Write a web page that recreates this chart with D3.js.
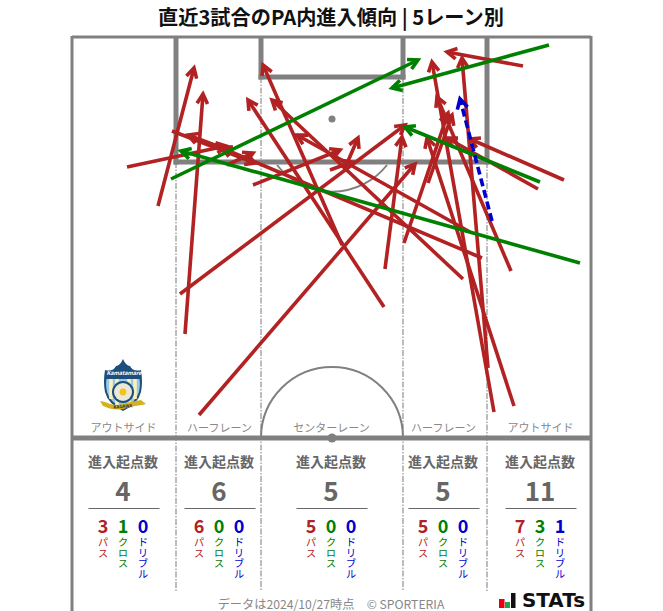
<!DOCTYPE html>
<html><head><meta charset="utf-8">
<script src="https://cdn.jsdelivr.net/npm/d3@7"></script>
<style>html,body{margin:0;padding:0;background:#fff}svg{display:block}text{font-family:"Noto Sans CJK JP","Noto Sans",sans-serif}</style>
</head><body><div id="c"></div>
<script>
// Pitch units: x across the half (0-519), y away from the goal line (0-401)
const passes=[[86,169,122,31],[55,130,154,109],[100,94,183,126],[113,297,131,57],[108,257,333,88],[127,378,343,127],[181,148,268,113],[155,128,181,116],[156,113,116,98],[312,270,176,63],[313,232,330,100],[273,131,286,101],[258,133,280,125],[270,208,191,28],[332,206,376,76],[410,221,150,111],[391,242,200,63],[398,195,225,98],[356,146,380,78],[492,143,398,102],[466,152,375,101],[451,29,375,15],[439,234,365,60],[442,369,355,101],[422,375,360,25],[416,331,390,21]];
const crosses=[[99,142,346,23],[477,8,320,51],[468,145,333,90],[508,226,109,114]];
const dribbles=[[420,184,388,62]];
const laneNames=["アウトサイド","ハーフレーン","センターレーン","ハーフレーン","アウトサイド"];
const laneEdges=[104,189,331,415];
const laneCenters=[51,147,259,371,468];
const totals=[4,6,5,5,11];
const passCounts=[3,6,5,5,7];
const crossCounts=[1,0,0,0,3];
const dribbleCounts=[0,0,0,0,1];
const kinds=["パス","クロス","ドリブル"];
const kindColors=["#b22222","#008000","#0000cd"];
const title="直近3試合のPA内進入傾向 | 5レーン別";
const footer="データは2024/10/27時点　© SPORTERIA";

const W=663,H=611;
const x=d3.scaleLinear().domain([0,519]).range([72,591]);
const y=d3.scaleLinear().domain([0,401]).range([37,438]);
const svg=d3.select("#c").append("svg").attr("width",W).attr("height",H);
const grey="#808080";

// lane dividers
const laneTop=[125,40,40,125];
laneEdges.forEach((e,i)=>{
  svg.append("line").attr("x1",x(e)).attr("x2",x(e)).attr("y1",y(laneTop[i])).attr("y2",591)
    .attr("stroke","#999").attr("stroke-width",1.3).attr("stroke-dasharray","6 1.5 1.5 1.5");
});
// arcs
svg.append("path").attr("d",`M${x(205)},${y(125)+3}A70,70 0 0 0 ${x(315)},${y(125)+3}`).attr("fill","none").attr("stroke",grey).attr("stroke-width",2);
svg.append("path").attr("d",`M${x(189)},${y(401)}A70.5,70.5 0 0 1 ${x(331)},${y(401)}`).attr("fill","none").attr("stroke",grey).attr("stroke-width",2);
// pitch frame
const frame=(x1,y1,x2,y2,w)=>svg.append("line").attr("x1",x1).attr("y1",y1).attr("x2",x2).attr("y2",y2).attr("stroke",grey).attr("stroke-width",w);
frame(x(0),37,x(519),37,3);
frame(x(0),36,x(0),611,3);
frame(x(519),36,x(519),611,3);
frame(x(0),y(401),x(519),y(401),5);
frame(x(104),37,x(104),y(125)+2.5,5);
frame(x(415),37,x(415),y(125)+2.5,5);
frame(x(104)-2.5,y(125),x(415)+2.5,y(125),5);
frame(x(189),37,x(189),y(40)+2.5,5);
frame(x(331),37,x(331),y(40)+2.5,5);
frame(x(189)-2.5,y(40),x(331)+2.5,y(40),5);
svg.append("circle").attr("cx",x(260)).attr("cy",y(82)).attr("r",3.5).attr("fill",grey);
svg.append("circle").attr("cx",x(260)).attr("cy",y(401)).attr("r",4.5).attr("fill",grey);

// lane names
svg.selectAll(".ln").data(laneNames).join("text").attr("x",(d,i)=>x(laneCenters[i])+0.5).attr("y",432)
  .attr("text-anchor","middle").attr("font-size",11).attr("fill","#888").text(d=>d);

// crest
const crest=svg.append("g").attr("transform","translate(123,386)");
crest.append("path").attr("d","M-18,-16 Q-10,-14 -7,-20 Q-3,-20 0,-27 Q3,-20 7,-20 Q10,-14 18,-16 Q20,-4 18,6 Q15,18 0,25 Q-15,18 -18,6 Q-20,-4 -18,-16Z").attr("fill","#1d4f7c");
crest.append("path").attr("d","M-16.5,-7 H16.5 Q17.5,-2 16,6 Q13,16 0,23 Q-13,16 -16,6 Q-17.5,-2 -16.5,-7Z").attr("fill","#9cc8e6");
[-12,-6,6,12].forEach(d=>crest.append("rect").attr("x",d-1.8).attr("y",-7).attr("width",3.6).attr("height",Math.abs(d)>10?20:26).attr("fill","#f6f1bd"));
crest.append("circle").attr("r",11).attr("cy",6).attr("fill","#1d4f7c");
crest.append("circle").attr("r",9).attr("cy",6).attr("fill","#ece8d8");
crest.append("circle").attr("r",3.4).attr("cy",6).attr("fill","#f0c419");
crest.append("path").attr("d","M-23,15 L-18,16 Q-8,21 0,18 Q10,15 18,14 L23,18 L19,19 Q8,20 0,23 Q-9,25 -20,20Z").attr("fill","#d4b11e");
crest.append("text").attr("x",0).attr("y",22).attr("text-anchor","middle").attr("font-size",4.5).attr("font-weight",700).attr("fill","#333").attr("transform","rotate(-4 0 22)").text("KAGAWA");
crest.append("text").attr("x",1).attr("y",-11).attr("text-anchor","middle").attr("font-size",5.5).attr("font-weight",700).attr("font-style","italic").attr("fill","#fff").text("Kamatamare");

// arrows
function shaft(d){return `M${x(d[0])},${y(d[1])}L${x(d[2])},${y(d[3])}`}
function head(d){
  const [a,b,c,e]=[x(d[0]),y(d[1]),x(d[2]),y(d[3])];
  const t=Math.atan2(e-b,c-a),L=11,S=0.5;
  return `M${c-L*Math.cos(t-S)},${e-L*Math.sin(t-S)}L${c},${e}L${c-L*Math.cos(t+S)},${e-L*Math.sin(t+S)}`;
}
function draw(data,color,dash){
  const g=svg.append("g").attr("fill","none").attr("stroke",color).attr("stroke-width",3.6);
  g.selectAll(".s").data(data).join("path").attr("d",shaft).attr("stroke-dasharray",dash||null);
  g.selectAll(".h").data(data).join("path").attr("d",head);
}
draw(passes,kindColors[0]);
draw(crosses,kindColors[1]);
draw(dribbles,kindColors[2],"8 4");

// stats panel
laneCenters.forEach((c,i)=>{
  const cx=x(c);
  const g=svg.append("g");
  g.append("text").attr("x",cx).attr("y",467).attr("text-anchor","middle").attr("font-size",14).attr("font-weight",700).attr("fill","#666").text("進入起点数");
  g.append("text").attr("x",cx).attr("y",501).attr("text-anchor","middle").attr("font-size",26).attr("font-weight",700).attr("fill","#666").text(totals[i]);
  g.append("line").attr("x1",cx-34.5).attr("x2",cx+36.5).attr("y1",508.5).attr("y2",508.5).attr("stroke","#666").attr("stroke-width",1);
  [passCounts[i],crossCounts[i],dribbleCounts[i]].forEach((v,k)=>{
    const kx=cx-20+20*k;
    g.append("text").attr("x",kx).attr("y",533).attr("text-anchor","middle").attr("font-size",18).attr("font-weight",700).attr("fill",kindColors[k]).text(v);
    g.append("text").attr("x",kx).attr("y",537).attr("font-size",10.5).attr("fill",kindColors[k])
      .style("writing-mode","vertical-rl").style("text-orientation","upright")
      .attr("text-anchor","start").text(kinds[k]);
  });
});

// title + footer
svg.append("text").attr("x",331).attr("y",25).attr("text-anchor","middle").attr("font-size",20.2).attr("font-weight",700).attr("fill","#111").text(title);
svg.append("text").attr("x",331).attr("y",608.5).attr("text-anchor","middle").attr("font-size",12.2).attr("fill","#888").text(footer);

// STATs logo
const logo=svg.append("g").attr("transform","translate(499,608)");
logo.append("rect").attr("x",0).attr("y",-9).attr("width",5.5).attr("height",9).attr("fill","#e60012");
logo.append("rect").attr("x",6).attr("y",-6).attr("width",5).attr("height",6).attr("fill","#1aa64a");
logo.append("rect").attr("x",12).attr("y",-15).attr("width",4.5).attr("height",15).attr("fill","#111");
logo.append("text").attr("x",23).attr("y",-1).attr("font-size",19).attr("font-weight",700).attr("fill","#111").attr("textLength",63).attr("lengthAdjust","spacingAndGlyphs").style("font-family","'DejaVu Sans',sans-serif").text("STATs");
</script></body></html>
